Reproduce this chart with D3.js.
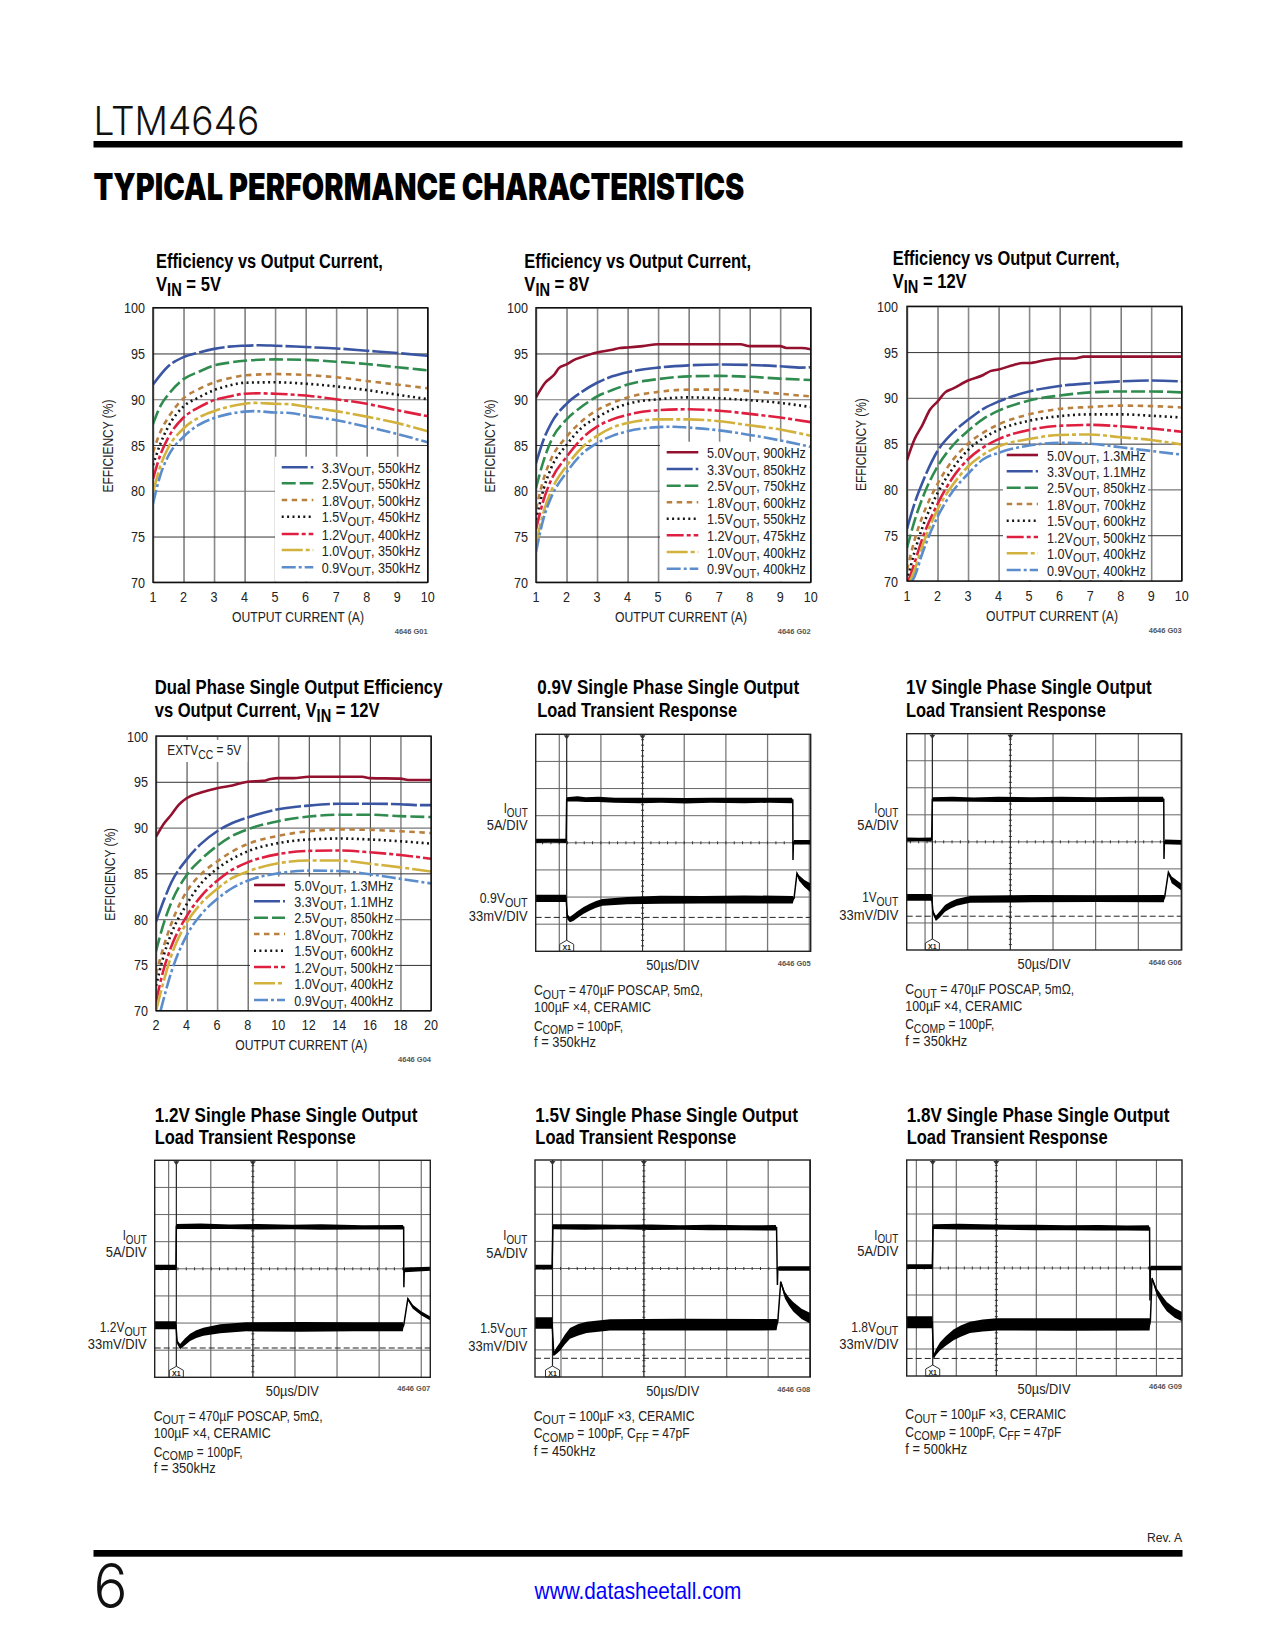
<!DOCTYPE html>
<html>
<head>
<meta charset="utf-8">
<script src="https://cdn.jsdelivr.net/npm/d3@7"></script>
<style>
body { margin: 0; background: #fff; }
text { font-family: "Liberation Sans Narrow", "Liberation Sans", sans-serif; fill: #222; }
</style>
</head>
<body>
<div id="page"></div>
<script>
const svg = d3.select("#page").append("svg").attr("width", 1275).attr("height", 1650);
svg.append("rect").attr("width", 1275).attr("height", 1650).attr("fill", "#fff");

// text with V_{OUT} style subscripts, squeezed to the width seen on the page
function label(g, x, y, str, { size = 14, weight = "normal", width, anchor = "start", fill = "#222", family, rotate = 0 } = {}) {
    const t = g.append("text")
        .attr("font-size", size).attr("text-anchor", anchor)
        .style("fill", fill)
        .attr("font-weight", weight);
    if (family) t.style("font-family", family);
    const parts = str.split(/(_\{[^}]*\})/).filter(s => s.length);
    let drop = 0;
    parts.forEach(p => {
        if (p.startsWith("_{")) {
            t.append("tspan").attr("dy", size * 0.24).attr("font-size", size * 0.88).text(p.slice(2, -1));
            drop = size * 0.24;
        } else {
            t.append("tspan").attr("dy", -drop).text(p);
            drop = 0;
        }
    });
    const sx = width ? width / t.node().getComputedTextLength() : 1;
    t.attr("transform", `translate(${x},${y}) rotate(${rotate}) scale(${sx},1)`);
    return t;
}

const styles = {
    "5.0": { color: "#93102f", dash: null },
    "3.3": { color: "#3a56a3", dash: "26,3" },
    "2.5": { color: "#2f8c4e", dash: "14,4" },
    "1.8": { color: "#b9803f", dash: "5.5,4.5" },
    "1.5": { color: "#151515", dash: "2,3.4" },
    "1.2": { color: "#df1f3f", dash: "17,3,4,3" },
    "1.0": { color: "#d2b23c", dash: "21,3,4,3" },
    "0.9": { color: "#5b8ccb", dash: "14,3,3,3" },
};

function efficiencyChart({ plot, xDomain, xStep, title, ytitleX, tickRight, xTitleX, base, series, legend, extv }) {
    const g = svg.append("g");
    const [left, right, top, bottom] = plot;

    let x = d3.scaleLinear().domain(xDomain).range([left, right]);
    let y = d3.scaleLinear().domain([70, 100]).range([bottom, top]);

    title.forEach(t => label(g, t.x, t.y + 0.7, t.text, { size: 20.5, weight: "bold", width: t.width, fill: "#000" }));

    // grid comes from the axes themselves
    const xTicks = d3.range(xDomain[0], xDomain[1] + 0.01, xStep);
    g.append("g")
        .attr("transform", `translate(0,${bottom})`)
        .call(d3.axisBottom(x).tickValues(xTicks).tickSize(top - bottom).tickFormat(d => ""))
        .call(a => a.select(".domain").remove())
        .call(a => a.selectAll(".tick text").remove())
        .call(a => a.selectAll(".tick line")
            .attr("stroke", (d, i) => i % 2 ? "#333" : "#8a8a8a")
            .attr("stroke-width", (d, i) => i % 2 ? 1 : 1.6));
    g.append("g")
        .attr("transform", `translate(${left},0)`)
        .call(d3.axisLeft(y).tickValues(d3.range(70, 101, 5)).tickSize(left - right).tickFormat(d => ""))
        .call(a => a.select(".domain").remove())
        .call(a => a.selectAll(".tick text").remove())
        .call(a => a.selectAll(".tick line")
            .attr("stroke", (d, i) => i % 2 ? "#333" : "#777")
            .attr("stroke-width", (d, i) => i % 2 ? 1 : 1.2));

    // tick labels
    xTicks.forEach(d => label(g, x(d), base.tick, String(d), { size: 15.5, anchor: "middle", width: String(d).length * 7 }));
    d3.range(70, 101, 5).forEach(d => label(g, tickRight, y(d) + 5.5, String(d), { size: 15.5, anchor: "end", width: String(d).length * 7 }));

    label(g, xTitleX, base.xtitle, "OUTPUT CURRENT (A)", { size: 15.5, anchor: "middle", width: 132 });
    label(g, ytitleX, (top + bottom) / 2 + 1, "EFFICIENCY (%)", { size: 15, anchor: "middle", width: 93, rotate: -90 });
    label(g, right, base.gid, base.id, { size: 7.5, weight: "bold", anchor: "end", fill: "#555" });

    // white box behind the legend
    g.append("rect")
        .attr("x", legend.box[0]).attr("y", legend.box[1])
        .attr("width", legend.box[2] - legend.box[0]).attr("height", legend.box[3] - legend.box[1])
        .attr("fill", "#fff");

    if (extv) {
        g.append("rect").attr("x", extv.x - 4).attr("y", extv.y - 15).attr("width", 84).attr("height", 22).attr("fill", "#fff");
        label(g, extv.x, extv.y, "EXTV_{CC} = 5V", { size: 15, width: 74 });
    }

    const clipId = "clip" + base.id.replace(/\W/g, "");
    g.append("clipPath").attr("id", clipId).append("rect")
        .attr("x", left).attr("y", top).attr("width", right - left).attr("height", bottom - top);

    let line = d3.line().x(d => x(d[0])).y(d => y(d[1])).curve(d3.curveMonotoneX);

    g.append("g").attr("clip-path", `url(#${clipId})`)
        .selectAll("path")
        .data(Object.keys(series))
        .join("path")
        .attr("d", k => line(series[k]))
        .attr("fill", "none")
        .attr("stroke", k => styles[k].color)
        .attr("stroke-width", 2.6)
        .attr("stroke-dasharray", k => styles[k].dash);

    g.append("rect")
        .attr("x", left).attr("y", top).attr("width", right - left).attr("height", bottom - top)
        .attr("fill", "none").attr("stroke", "#111").attr("stroke-width", 1.4);

    // legend
    legend.rows.forEach((row, i) => {
        const ly = legend.ys[i];
        g.append("line")
            .attr("x1", legend.line[0]).attr("x2", legend.line[1])
            .attr("y1", ly).attr("y2", ly)
            .attr("stroke", styles[row[0]].color)
            .attr("stroke-width", 2.6)
            .attr("stroke-dasharray", styles[row[0]].dash);
        label(g, legend.text + 1, ly + 5.5, `${row[0]}V_{OUT}, ${row[1]}`, { size: 14.5, width: 99 });
    });
}

function scopeChart({ plot, divs, phase, step = 1, trigger, dashed, title, labels, xlabel, gid, notes, iout, vout }) {
    const g = svg.append("g");
    const [left, right, top, bottom] = plot;

    let x = d3.scaleLinear().domain([0, divs]).range([left, right]);
    let y = d3.scaleLinear().domain([0, 8]).range([bottom, top]);

    title.forEach(t => label(g, t.x, t.y + 0.7, t.text, { size: 20.5, weight: "bold", width: t.width, fill: "#000" }));

    const center = phase + 2 * step;
    const vlines = d3.range(phase, divs, step);
    g.append("g").selectAll("line").data(vlines).join("line")
        .attr("x1", d => x(d)).attr("x2", d => x(d)).attr("y1", top).attr("y2", bottom)
        .attr("stroke", (d, i) => i % 2 ? "#777" : "#555").attr("stroke-width", (d, i) => i % 2 ? 1.3 : 1);
    g.append("g").selectAll("line").data(d3.range(1, 8)).join("line")
        .attr("x1", left).attr("x2", right).attr("y1", d => y(d)).attr("y2", d => y(d))
        .attr("stroke", "#666").attr("stroke-width", 1);

    // minor ticks along the centre lines
    g.append("g").selectAll("line").data(d3.range(center % 0.2, divs, 0.2)).join("line")
        .attr("x1", d => x(d)).attr("x2", d => x(d)).attr("y1", y(4) - 1.5).attr("y2", y(4) + 1.5)
        .attr("stroke", "#333");
    g.append("g").selectAll("line").data(d3.range(0.2, 8, 0.2)).join("line")
        .attr("x1", x(center) - 1.5).attr("x2", x(center) + 1.5).attr("y1", d => y(d)).attr("y2", d => y(d))
        .attr("stroke", "#333");

    g.append("line").attr("x1", x(center)).attr("x2", x(center)).attr("y1", top).attr("y2", bottom)
        .attr("stroke", "#333").attr("stroke-width", 1);
    g.append("line").attr("x1", x(trigger)).attr("x2", x(trigger)).attr("y1", top).attr("y2", bottom)
        .attr("stroke", "#222").attr("stroke-width", 1.2);

    g.append("line").attr("x1", left).attr("x2", right).attr("y1", y(dashed)).attr("y2", y(dashed))
        .attr("stroke", "#222").attr("stroke-width", 1).attr("stroke-dasharray", "6,3");

    // little arrows on the top edge
    g.append("g").selectAll("path").data([trigger, center]).join("path")
        .attr("transform", d => `translate(${x(d)},${top + 2})`)
        .attr("d", "M-3,-1L3,-1L0,3Z").attr("fill", "#333");

    let area = d3.area().x(d => x(d[0])).y0(d => y(d[1] - d[2] / 2)).y1(d => y(d[1] + d[2] / 2));
    let line = d3.line().x(d => x(d[0])).y(d => y(d[1]));

    [iout, vout].forEach(tr => {
        g.append("path").attr("d", area(tr)).attr("fill", "#000");
        g.append("path").attr("d", line(tr)).attr("fill", "none").attr("stroke", "#000").attr("stroke-width", 1.5);
    });

    // trigger marker
    const hx = x(trigger);
    g.append("path")
        .attr("d", `M${hx - 7},${bottom}V${bottom - 7}L${hx},${bottom - 11}L${hx + 7},${bottom - 7}V${bottom}Z`)
        .attr("fill", "#fff").attr("stroke", "#333").attr("stroke-width", 1);
    label(g, hx, bottom - 1, "X1", { size: 7, weight: "bold", anchor: "middle", fill: "#222", family: "Liberation Sans" });

    g.append("rect")
        .attr("x", left).attr("y", top).attr("width", right - left).attr("height", bottom - top)
        .attr("fill", "none").attr("stroke", "#222").attr("stroke-width", 1.4);

    labels.forEach(l => label(g, l.x, l.y, l.text, { size: 15.5, anchor: "end", width: l.width }));
    label(g, xlabel.x, xlabel.y, "50µs/DIV", { size: 15.5, anchor: "middle", width: 53 });
    label(g, right, gid.y, gid.text, { size: 7.5, weight: "bold", anchor: "end", fill: "#555" });
    notes.forEach(n => label(g, n.x, n.y, n.text, { size: 15, width: n.width }));
}

// page furniture
label(svg, 93.5, 135, "LTM4646", { size: 39, width: 166, fill: "#111", family: "Inter", weight: 300 });
svg.append("rect").attr("x", 93.5).attr("y", 141).attr("width", 1089).attr("height", 6.5).attr("fill", "#000");
label(svg, 93.5, 200, "TYPICAL PERFORMANCE CHARACTERISTICS", { size: 37, width: 651, fill: "#000", family: "Inter", weight: 900 });
svg.append("rect").attr("x", 93.5).attr("y", 1550).attr("width", 1089).attr("height", 6.7).attr("fill", "#000");
label(svg, 1182, 1541.5, "Rev. A", { size: 13, anchor: "end", width: 35 });
label(svg, 93.5, 1608, "6", { size: 62, width: 34, fill: "#111", family: "Inter", weight: 300 });
label(svg, 638, 1599, "www.datasheetall.com", { size: 23, anchor: "middle", width: 207, fill: "#0000ff" });

const lowLeg5 = [["3.3", "550kHz"], ["2.5", "550kHz"], ["1.8", "500kHz"], ["1.5", "450kHz"], ["1.2", "400kHz"], ["1.0", "350kHz"], ["0.9", "350kHz"]];

efficiencyChart({
    plot: [153, 427.7, 307.7, 582.3], xDomain: [1, 10], xStep: 1,
    title: [{ x: 156, y: 267, text: "Efficiency vs Output Current,", width: 227 }, { x: 156, y: 290, text: "V_{IN} = 5V", width: 65 }],
    ytitleX: 113, tickRight: 145, xTitleX: 298,
    base: { tick: 601.7, xtitle: 621.7, gid: 634, id: "4646 G01" },
    legend: { box: [275, 456.7, 427, 581.7], line: [281.7, 313.3], text: 320.7, ys: [467.3, 483.3, 500, 516.7, 534, 550, 567.3], rows: lowLeg5 },
    series: {
        "3.3": [[1, 91.6], [1.5, 93.6], [2, 94.6], [2.5, 95.1], [3, 95.5], [3.5, 95.75], [4, 95.85], [4.5, 95.9], [5, 95.85], [6, 95.7], [7, 95.55], [8, 95.3], [9, 95.05], [10, 94.75]],
        "2.5": [[1, 87.3], [1.25, 89.3], [1.5, 90.5], [2, 92.2], [2.5, 93], [3, 93.7], [3.5, 94], [4, 94.2], [5, 94.35], [6, 94.3], [7, 94.1], [8, 93.85], [9, 93.5], [10, 93.15]],
        "1.8": [[1, 84.2], [1.25, 86.5], [1.5, 88], [2, 90.1], [2.5, 91.1], [3, 91.85], [3.5, 92.3], [4, 92.6], [5, 92.75], [6, 92.65], [7, 92.4], [8, 92], [9, 91.6], [10, 91.2]],
        "1.5": [[1, 82.8], [1.25, 85.2], [1.5, 87], [2, 89.2], [2.5, 90.2], [3, 91], [3.5, 91.5], [4, 91.8], [5, 91.85], [6, 91.7], [7, 91.4], [8, 91], [9, 90.5], [10, 90]],
        "1.2": [[1, 81.3], [1.25, 84], [1.5, 85.8], [2, 88], [2.5, 89.1], [3, 89.9], [3.5, 90.3], [4, 90.6], [4.5, 90.65], [5, 90.6], [6, 90.4], [7, 90], [8, 89.5], [9, 88.8], [10, 88.15]],
        "1.0": [[1, 79.8], [1.25, 82.8], [1.5, 84.7], [2, 86.8], [2.5, 88], [3, 88.7], [3.5, 89.2], [4, 89.5], [4.3, 89.6], [5, 89.5], [5.5, 89.45], [6, 89.2], [7, 88.7], [8, 88.1], [9, 87.4], [10, 86.5]],
        "0.9": [[1, 78.6], [1.25, 81.8], [1.5, 83.8], [2, 85.9], [2.5, 87.2], [3, 87.95], [3.5, 88.4], [4, 88.65], [4.3, 88.7], [5, 88.55], [5.5, 88.5], [6, 88.2], [7, 87.7], [8, 87], [9, 86.2], [10, 85.3]],
    },
});

efficiencyChart({
    plot: [536, 810.7, 307.7, 582.3], xDomain: [1, 10], xStep: 1,
    title: [{ x: 524.3, y: 267, text: "Efficiency vs Output Current,", width: 227 }, { x: 524.3, y: 290, text: "V_{IN} = 8V", width: 65 }],
    ytitleX: 495, tickRight: 528, xTitleX: 681,
    base: { tick: 601.7, xtitle: 621.7, gid: 634, id: "4646 G02" },
    legend: {
        box: [660, 441.7, 810, 581.7], line: [666.7, 698.3], text: 706, ys: [452.3, 469, 485.7, 502.3, 518.7, 535.3, 552, 568.7],
        rows: [["5.0", "900kHz"], ["3.3", "850kHz"], ["2.5", "750kHz"], ["1.8", "600kHz"], ["1.5", "550kHz"], ["1.2", "475kHz"], ["1.0", "400kHz"], ["0.9", "400kHz"]],
    },
    series: {
        "5.0": [[1, 90.2], [1.3, 91.8], [1.6, 92.7], [1.75, 93.4], [2, 93.8], [2.25, 94.3], [2.5, 94.6], [3, 95.1], [3.5, 95.4], [3.75, 95.6], [4, 95.65], [4.5, 95.8], [5, 96], [6, 96], [7, 96], [7.7, 96], [8, 95.8], [9, 95.8], [9.2, 95.6], [9.7, 95.6], [10, 95.45]],
        "3.3": [[1, 83], [1.25, 85.6], [1.5, 87.4], [2, 89.5], [2.5, 90.8], [3, 91.8], [3.5, 92.5], [4, 92.95], [5, 93.45], [6, 93.7], [7, 93.8], [8, 93.75], [9, 93.6], [9.7, 93.45], [10, 93.5]],
        "2.5": [[1, 80.3], [1.25, 83.3], [1.5, 85.5], [2, 87.8], [2.5, 89.2], [3, 90.3], [3.5, 91], [4, 91.6], [5, 92.2], [6, 92.5], [7, 92.55], [8, 92.45], [9, 92.25], [10, 92.1]],
        "1.8": [[1, 78], [1.25, 81.3], [1.5, 83.5], [2, 85.9], [2.5, 87.6], [3, 88.8], [3.5, 89.6], [4, 90.2], [5, 90.8], [6, 91.05], [7, 91.05], [8, 90.9], [9, 90.6], [10, 90.3]],
        "1.5": [[1, 76.8], [1.25, 80.2], [1.5, 82.5], [2, 85], [2.5, 86.9], [3, 88], [3.5, 88.9], [4, 89.5], [5, 90], [6, 90.2], [7, 90.1], [8, 89.9], [9, 89.6], [10, 89.15]],
        "1.2": [[1, 75.8], [1.25, 79], [1.5, 81.2], [2, 83.7], [2.5, 85.7], [3, 87], [3.5, 87.8], [4, 88.3], [5, 88.8], [6, 88.9], [7, 88.75], [8, 88.4], [9, 88], [10, 87.5]],
        "1.0": [[1, 74.2], [1.25, 77.7], [1.5, 80], [2, 82.7], [2.5, 84.7], [3, 86], [3.5, 86.9], [4, 87.4], [5, 87.8], [6, 87.8], [7, 87.6], [8, 87.15], [9, 86.7], [10, 86]],
        "0.9": [[1, 73.3], [1.25, 77], [1.5, 79.3], [2, 82], [2.5, 84], [3, 85.2], [3.5, 86], [4, 86.5], [5, 86.95], [5.5, 87], [6, 86.9], [7, 86.6], [8, 86.1], [9, 85.5], [10, 84.8]],
    },
});

const leg12 = [["5.0", "1.3MHz"], ["3.3", "1.1MHz"], ["2.5", "850kHz"], ["1.8", "700kHz"], ["1.5", "600kHz"], ["1.2", "500kHz"], ["1.0", "400kHz"], ["0.9", "400kHz"]];

efficiencyChart({
    plot: [907, 1181.7, 306.3, 581], xDomain: [1, 10], xStep: 1,
    title: [{ x: 892.7, y: 264.3, text: "Efficiency vs Output Current,", width: 227 }, { x: 892.7, y: 287.3, text: "V_{IN} = 12V", width: 74 }],
    ytitleX: 866, tickRight: 898, xTitleX: 1052,
    base: { tick: 600.7, xtitle: 620.7, gid: 632.7, id: "4646 G03" },
    legend: { box: [1003, 445, 1148, 580], line: [1006.7, 1038], text: 1046, ys: [455, 471.3, 487.7, 504, 520.7, 537, 553.3, 570], rows: leg12 },
    series: {
        "5.0": [[1, 83.2], [1.25, 85.5], [1.5, 87], [1.75, 88.7], [2, 89.6], [2.25, 90.6], [2.5, 91], [3, 91.9], [3.5, 92.5], [3.75, 92.95], [4, 93.1], [4.5, 93.6], [4.8, 93.8], [5, 93.8], [5.5, 94.1], [6, 94.3], [6.5, 94.3], [6.8, 94.5], [7, 94.5], [8, 94.5], [9, 94.5], [10, 94.5]],
        "3.3": [[1, 75.7], [1.25, 78.5], [1.5, 80.7], [2, 84.2], [2.5, 86.2], [3, 87.6], [3.5, 88.8], [4, 89.6], [5, 90.7], [6, 91.3], [7, 91.6], [8, 91.8], [9, 91.9], [10, 91.8]],
        "2.5": [[1, 73.6], [1.25, 76.6], [1.5, 79], [2, 82.5], [2.5, 84.8], [3, 86.4], [3.5, 87.7], [4, 88.6], [5, 89.7], [6, 90.25], [7, 90.6], [8, 90.7], [9, 90.7], [10, 90.6]],
        "1.8": [[1, 71.2], [1.25, 74.5], [1.5, 77], [2, 80.6], [2.5, 83.2], [3, 85], [3.5, 86.2], [4, 87.1], [5, 88.2], [6, 88.8], [7, 89], [8, 89.15], [9, 89.1], [10, 88.95]],
        "1.5": [[1, 70], [1.25, 73.2], [1.5, 75.8], [2, 79.6], [2.5, 82.3], [3, 84.3], [3.5, 85.6], [4, 86.5], [5, 87.5], [6, 88], [7, 88.2], [8, 88.2], [9, 88.05], [10, 87.85]],
        "1.2": [[1.05, 70], [1.25, 72], [1.5, 74.6], [2, 78.4], [2.5, 81.3], [3, 83.3], [3.5, 84.6], [4, 85.5], [5, 86.5], [6, 86.95], [7, 87.05], [8, 86.9], [9, 86.65], [10, 86.3]],
        "1.0": [[1.1, 70], [1.25, 71.2], [1.5, 73.8], [2, 77.8], [2.5, 80.5], [3, 82.5], [3.5, 83.8], [4, 84.7], [5, 85.5], [6, 85.95], [7, 86], [8, 85.7], [9, 85.4], [10, 84.9]],
        "0.9": [[1.17, 70], [1.25, 70.5], [1.5, 73], [2, 77], [2.5, 79.8], [3, 81.7], [3.5, 83.3], [4, 84], [5, 84.8], [6, 85.1], [7, 85], [8, 84.6], [9, 84.2], [10, 83.8]],
    },
});

efficiencyChart({
    plot: [156, 431, 736, 1010.7], xDomain: [2, 20], xStep: 2,
    title: [{ x: 154.7, y: 693.3, text: "Dual Phase Single Output Efficiency", width: 288 }, { x: 154.7, y: 716, text: "vs Output Current, V_{IN} = 12V", width: 225 }],
    ytitleX: 115, tickRight: 148, xTitleX: 301.3,
    base: { tick: 1030, xtitle: 1050, gid: 1061.7, id: "4646 G04" },
    extv: { x: 167.3, y: 755 },
    legend: { box: [250, 876.7, 395, 1010], line: [254, 285], text: 293.3, ys: [885, 901.3, 917.7, 934, 950.7, 967, 983.3, 1000], rows: leg12 },
    series: {
        "5.0": [[2, 89], [2.5, 90.4], [3, 91.4], [3.5, 92.5], [4, 93.2], [5, 93.85], [6, 94.3], [7, 94.6], [8, 95], [9, 95.1], [9.5, 95.3], [10, 95.4], [11, 95.4], [12, 95.55], [14, 95.55], [15.5, 95.55], [16, 95.4], [18, 95.35], [18.5, 95.2], [20, 95.2]],
        "3.3": [[2, 79.7], [2.5, 82], [3, 84], [4, 86.5], [5, 88.3], [6, 89.6], [7, 90.5], [8, 91.1], [10, 92], [12, 92.4], [14, 92.6], [16, 92.6], [18, 92.55], [19, 92.45], [20, 92.45]],
        "2.5": [[2, 76.5], [2.5, 79.5], [3, 81.8], [4, 84.8], [5, 86.6], [6, 88], [7, 89.1], [8, 89.8], [10, 90.7], [12, 91.2], [14, 91.4], [16, 91.4], [18, 91.25], [20, 91.15]],
        "1.8": [[2, 74], [2.5, 77], [3, 79.5], [4, 83], [5, 85], [6, 86.3], [7, 87.4], [8, 88.2], [10, 89.1], [12, 89.6], [14, 89.8], [16, 89.75], [18, 89.6], [20, 89.4]],
        "1.5": [[2, 72.7], [2.5, 76], [3, 78.4], [4, 81.6], [5, 84], [6, 85.5], [7, 86.6], [8, 87.4], [10, 88.3], [12, 88.7], [14, 88.8], [16, 88.7], [18, 88.5], [20, 88.25]],
        "1.2": [[2, 71], [2.5, 74.5], [3, 77], [4, 80.3], [5, 82.6], [6, 84.2], [7, 85.4], [8, 86.2], [10, 87.1], [12, 87.45], [14, 87.5], [16, 87.3], [18, 87], [20, 86.6]],
        "1.0": [[2, 70], [2.5, 73.2], [3, 76], [4, 79.6], [5, 81.8], [6, 83.3], [7, 84.5], [8, 85.2], [10, 86.1], [12, 86.4], [14, 86.4], [16, 86.05], [18, 85.65], [20, 85.2]],
        "0.9": [[2.3, 70], [3, 74.2], [4, 78.2], [5, 80.6], [6, 82.2], [7, 83.4], [8, 84.2], [10, 85], [12, 85.3], [14, 85.25], [16, 84.9], [18, 84.4], [20, 83.9]],
    },
});

// scope traces: [time in divisions, level in divisions, band thickness in divisions]
scopeChart({
    plot: [535.7, 810.7, 734.3, 951.3], divs: 6.6, phase: 0.565, trigger: 0.744, dashed: 1.25,
    title: [{ x: 537.3, y: 693.3, text: "0.9V Single Phase Single Output", width: 262 }, { x: 537.3, y: 716, text: "Load Transient Response", width: 200 }],
    labels: [{ x: 527.7, y: 813, text: "I_{OUT}", width: 24 }, { x: 527.7, y: 830, text: "5A/DIV", width: 41 }, { x: 527.7, y: 903, text: "0.9V_{OUT}", width: 48 }, { x: 527.7, y: 920.7, text: "33mV/DIV", width: 59 }],
    xlabel: { x: 672.7, y: 970 }, gid: { y: 966, text: "4646 G05" },
    notes: [{ x: 534, y: 995, text: "C_{OUT} = 470µF POSCAP, 5mΩ,", width: 169 }, { x: 534, y: 1011.7, text: "100µF ×4, CERAMIC", width: 117 }, { x: 534, y: 1030.7, text: "C_{COMP} = 100pF,", width: 89 }, { x: 534, y: 1046.7, text: "f = 350kHz", width: 62 }],
    iout: [[0, 4.07, 0.16], [0.35, 4.08, 0.13], [0.73, 4.07, 0.16], [0.744, 5.6, 0.16], [1.0, 5.62, 0.2], [1.2, 5.59, 0.17], [1.5, 5.6, 0.2], [1.9, 5.57, 0.18], [2.5, 5.56, 0.2], [3, 5.57, 0.18], [3.6, 5.55, 0.2], [4.2, 5.57, 0.18], [5, 5.56, 0.2], [5.6, 5.57, 0.19], [6.15, 5.56, 0.2], [6.17, 5.57, 0.04], [6.175, 3.37, 0.02], [6.185, 4.02, 0.04], [6.2, 4.02, 0.17], [6.6, 4.02, 0.17]],
    vout: [[0, 1.95, 0.27], [0.73, 1.95, 0.27], [0.76, 1.27, 0.2], [0.82, 1.17, 0.2], [0.9, 1.24, 0.24], [1.0, 1.35, 0.25], [1.15, 1.51, 0.25], [1.3, 1.63, 0.25], [1.45, 1.73, 0.25], [1.6, 1.8, 0.25], [2.2, 1.87, 0.27], [3, 1.9, 0.3], [4, 1.9, 0.27], [5, 1.91, 0.3], [6.17, 1.9, 0.28], [6.2, 1.95, 0.05], [6.27, 2.87, 0.1], [6.32, 2.7, 0.2], [6.45, 2.5, 0.25], [6.6, 2.33, 0.33]],
});

scopeChart({
    plot: [906.7, 1181.7, 733.7, 950], divs: 6.6, phase: 0.44, step: 1.024, trigger: 0.616, dashed: 1.25,
    title: [{ x: 906, y: 693.3, text: "1V Single Phase Single Output", width: 245.7 }, { x: 906, y: 716, text: "Load Transient Response", width: 200 }],
    labels: [{ x: 898.3, y: 813, text: "I_{OUT}", width: 24 }, { x: 898.3, y: 830, text: "5A/DIV", width: 41 }, { x: 898.3, y: 902, text: "1V_{OUT}", width: 36 }, { x: 898.3, y: 919.7, text: "33mV/DIV", width: 59 }],
    xlabel: { x: 1044, y: 968.7 }, gid: { y: 965, text: "4646 G06" },
    notes: [{ x: 905.3, y: 994, text: "C_{OUT} = 470µF POSCAP, 5mΩ,", width: 169 }, { x: 905.3, y: 1010.7, text: "100µF ×4, CERAMIC", width: 117 }, { x: 905.3, y: 1029.3, text: "C_{COMP} = 100pF,", width: 89 }, { x: 905.3, y: 1045.7, text: "f = 350kHz", width: 62 }],
    iout: [[0, 4.09, 0.15], [0.3, 4.09, 0.12], [0.6, 4.09, 0.15], [0.616, 5.57, 0.15], [1.1, 5.58, 0.18], [1.6, 5.56, 0.16], [2.2, 5.57, 0.2], [3, 5.56, 0.17], [3.7, 5.57, 0.2], [4.5, 5.56, 0.18], [5.4, 5.57, 0.2], [6.15, 5.57, 0.19], [6.17, 5.57, 0.04], [6.175, 3.37, 0.02], [6.185, 4.0, 0.04], [6.2, 4.0, 0.17], [6.6, 3.98, 0.17]],
    vout: [[0, 1.95, 0.25], [0.6, 1.95, 0.25], [0.63, 1.4, 0.15], [0.7, 1.17, 0.2], [0.8, 1.33, 0.23], [0.92, 1.54, 0.25], [1.05, 1.66, 0.25], [1.2, 1.76, 0.25], [1.52, 1.87, 0.25], [3, 1.9, 0.27], [4.5, 1.9, 0.25], [6.17, 1.9, 0.27], [6.19, 1.95, 0.05], [6.28, 2.87, 0.1], [6.36, 2.59, 0.25], [6.6, 2.32, 0.25]],
});

scopeChart({
    plot: [154.7, 430.3, 1160.3, 1377.3], divs: 6.62, phase: 0.336, step: 1.011, trigger: 0.52, dashed: 1.08,
    title: [{ x: 154.7, y: 1121, text: "1.2V Single Phase Single Output", width: 262.7 }, { x: 154.7, y: 1143.3, text: "Load Transient Response", width: 201 }],
    labels: [{ x: 146.7, y: 1240, text: "I_{OUT}", width: 24 }, { x: 146.7, y: 1256.7, text: "5A/DIV", width: 41 }, { x: 146.7, y: 1332, text: "1.2V_{OUT}", width: 47 }, { x: 146.7, y: 1349.3, text: "33mV/DIV", width: 59 }],
    xlabel: { x: 292.3, y: 1396 }, gid: { y: 1391, text: "4646 G07" },
    notes: [{ x: 153.7, y: 1420.7, text: "C_{OUT} = 470µF POSCAP, 5mΩ,", width: 169 }, { x: 153.7, y: 1437.7, text: "100µF ×4, CERAMIC", width: 117 }, { x: 153.7, y: 1456.7, text: "C_{COMP} = 100pF,", width: 89 }, { x: 153.7, y: 1472.7, text: "f = 350kHz", width: 62 }],
    iout: [[0, 4.05, 0.19], [0.51, 4.05, 0.19], [0.52, 5.56, 0.18], [1.1, 5.57, 0.2], [1.8, 5.55, 0.17], [2.5, 5.55, 0.2], [3.3, 5.54, 0.17], [4, 5.54, 0.2], [5, 5.53, 0.16], [5.96, 5.53, 0.17], [5.98, 5.53, 0.04], [5.985, 3.32, 0.02], [5.995, 3.96, 0.04], [6.01, 3.96, 0.17], [6.62, 4.0, 0.15]],
    vout: [[0, 1.92, 0.3], [0.51, 1.92, 0.3], [0.54, 1.3, 0.15], [0.61, 1.13, 0.2], [0.72, 1.3, 0.25], [0.85, 1.47, 0.27], [1, 1.59, 0.28], [1.17, 1.68, 0.3], [1.57, 1.79, 0.33], [2.2, 1.86, 0.33], [3.5, 1.86, 0.36], [4.8, 1.86, 0.33], [5.96, 1.86, 0.33], [5.98, 1.9, 0.05], [6.08, 2.89, 0.1], [6.2, 2.6, 0.15], [6.4, 2.36, 0.15], [6.62, 2.17, 0.15]],
});

scopeChart({
    plot: [535, 810.3, 1160, 1377], divs: 6.61, phase: 0.624, step: 0.995, trigger: 0.42, dashed: 0.69,
    title: [{ x: 535.3, y: 1121, text: "1.5V Single Phase Single Output", width: 262.7 }, { x: 535.3, y: 1143.3, text: "Load Transient Response", width: 201 }],
    labels: [{ x: 527.3, y: 1240, text: "I_{OUT}", width: 24 }, { x: 527.3, y: 1257.7, text: "5A/DIV", width: 41 }, { x: 527.3, y: 1333, text: "1.5V_{OUT}", width: 47 }, { x: 527.3, y: 1350.7, text: "33mV/DIV", width: 59 }],
    xlabel: { x: 672.7, y: 1396 }, gid: { y: 1391.7, text: "4646 G08" },
    notes: [{ x: 533.7, y: 1420.7, text: "C_{OUT} = 100µF ×3, CERAMIC", width: 161 }, { x: 533.7, y: 1438.3, text: "C_{COMP} = 100pF, C_{FF} = 47pF", width: 156 }, { x: 533.7, y: 1455.7, text: "f = 450kHz", width: 62 }],
    iout: [[0, 4.05, 0.17], [0.41, 4.05, 0.17], [0.43, 5.54, 0.18], [1.2, 5.53, 0.2], [2, 5.53, 0.17], [2.8, 5.52, 0.2], [3.5, 5.51, 0.17], [4.2, 5.51, 0.2], [5, 5.5, 0.18], [5.78, 5.5, 0.2], [5.8, 5.5, 0.04], [5.82, 3.39, 0.02], [5.83, 4.0, 0.04], [5.85, 4.0, 0.17], [6.61, 4.0, 0.17]],
    vout: [[0, 1.99, 0.42], [0.41, 1.99, 0.42], [0.45, 0.85, 0.15], [0.52, 0.98, 0.24], [0.6, 1.12, 0.3], [0.72, 1.39, 0.36], [0.84, 1.61, 0.4], [1.04, 1.74, 0.42], [1.24, 1.83, 0.42], [1.8, 1.92, 0.42], [3.5, 1.93, 0.44], [5.8, 1.93, 0.42], [5.83, 2.05, 0.1], [5.9, 3.51, 0.1], [6.0, 3.02, 0.25], [6.1, 2.78, 0.3], [6.2, 2.59, 0.35], [6.4, 2.33, 0.38], [6.61, 2.16, 0.4]],
});

scopeChart({
    plot: [906.7, 1182, 1160, 1376], divs: 6.88, phase: 0.24, trigger: 0.65, dashed: 0.65,
    title: [{ x: 906.7, y: 1121, text: "1.8V Single Phase Single Output", width: 262.7 }, { x: 906.7, y: 1143.3, text: "Load Transient Response", width: 201 }],
    labels: [{ x: 898.3, y: 1239.5, text: "I_{OUT}", width: 24 }, { x: 898.3, y: 1255.7, text: "5A/DIV", width: 41 }, { x: 898.3, y: 1331.5, text: "1.8V_{OUT}", width: 47 }, { x: 898.3, y: 1348.7, text: "33mV/DIV", width: 59 }],
    xlabel: { x: 1044, y: 1394 }, gid: { y: 1389.3, text: "4646 G09" },
    notes: [{ x: 905.3, y: 1419, text: "C_{OUT} = 100µF ×3, CERAMIC", width: 161 }, { x: 905.3, y: 1436.7, text: "C_{COMP} = 100pF, C_{FF} = 47pF", width: 156 }, { x: 905.3, y: 1454, text: "f = 500kHz", width: 62 }],
    iout: [[0, 4.05, 0.17], [0.64, 4.05, 0.17], [0.66, 5.53, 0.18], [1.3, 5.53, 0.21], [2.5, 5.51, 0.18], [3.2, 5.5, 0.21], [4, 5.49, 0.18], [4.8, 5.49, 0.21], [5.5, 5.48, 0.18], [6.05, 5.48, 0.2], [6.07, 5.48, 0.04], [6.08, 2.8, 0.02], [6.09, 4.0, 0.04], [6.1, 4.0, 0.17], [6.88, 4.0, 0.17]],
    vout: [[0, 1.99, 0.45], [0.64, 1.99, 0.45], [0.67, 0.7, 0.15], [0.73, 0.88, 0.22], [0.83, 1.09, 0.3], [0.97, 1.29, 0.35], [1.17, 1.52, 0.4], [1.35, 1.66, 0.42], [1.58, 1.8, 0.42], [1.9, 1.87, 0.44], [2.25, 1.91, 0.45], [4, 1.91, 0.46], [6.07, 1.91, 0.45], [6.09, 2.05, 0.1], [6.13, 3.62, 0.1], [6.25, 3.12, 0.25], [6.38, 2.81, 0.32], [6.5, 2.57, 0.35], [6.7, 2.33, 0.35], [6.88, 2.2, 0.35]],
});
</script>
</body>
</html>
